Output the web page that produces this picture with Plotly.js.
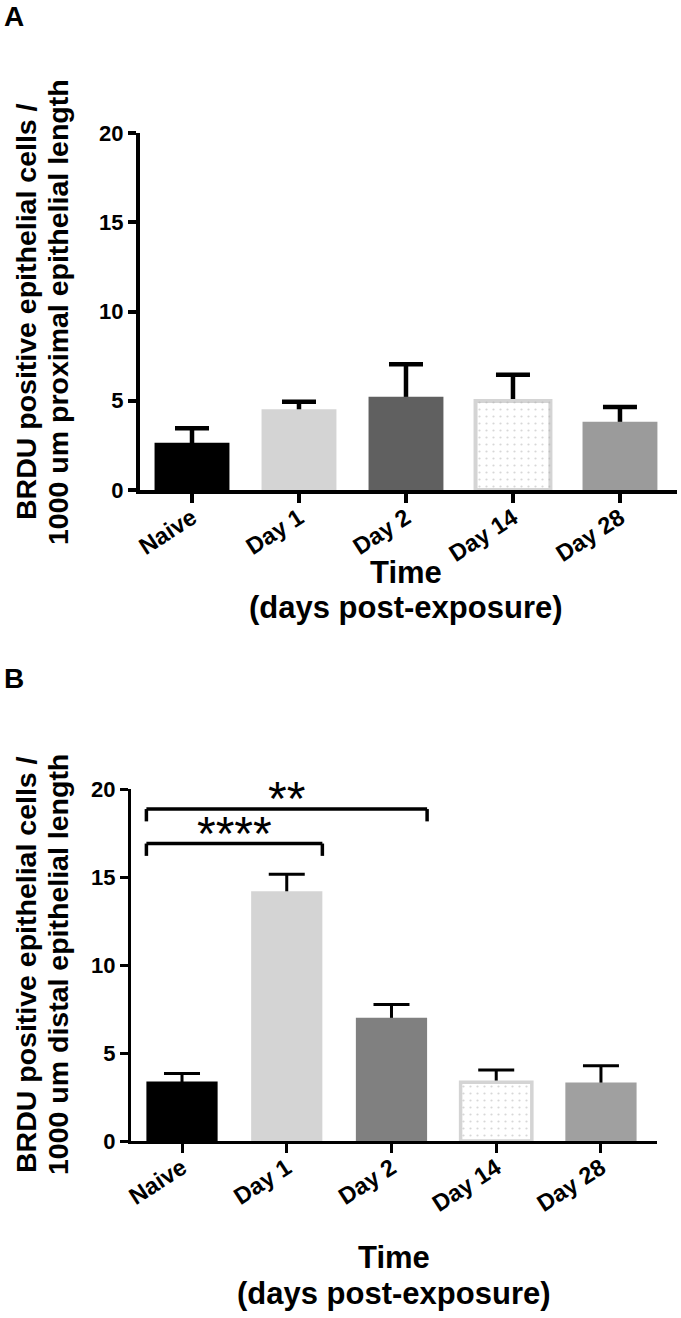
<!DOCTYPE html>
<html>
<head>
<meta charset="utf-8">
<script src="https://cdn.plot.ly/plotly-3.0.1.min.js"></script>
<style>html,body{margin:0;padding:0;background:#fff;}#chart{width:681px;height:1318px;}</style>
</head>
<body>
<div id="chart"></div>
<script>
// ---- data ----
const categories = ['Naive', 'Day 1', 'Day 2', 'Day 14', 'Day 28'];
const proximalMean = [2.65, 4.52, 5.23, 4.99, 3.83];
const proximalSem  = [0.81, 0.42, 1.81, 1.47, 0.82];
const distalMean   = [3.38, 14.19, 7.00, 3.34, 3.33];
const distalSem    = [0.46, 0.96, 0.76, 0.69, 0.95];
const yTickVals = [0, 5, 10, 15, 20];
const yTickText = ['0', '5', '10', '15', '20'];
const proximalColors = ['#000000', '#d4d4d4', '#606060', '#ffffff', '#9b9b9b'];
const distalColors   = ['#000000', '#d4d4d4', '#808080', '#ffffff', '#a0a0a0'];
const patternShapes  = ['', '', '', '.', ''];
const sigPairs  = [[0, 1], [0, 2]];
const sigLabels = ['****', '**'];
const sigLevels = [16.9, 18.86];
const sigDrop   = 0.7;
const panelLabels = ['A', 'B'];
const yTitleA = ['BRDU positive epithelial cells /', '1000 um proximal epithelial length'];
const yTitleB = ['BRDU positive epithelial cells /', '1000 um distal epithelial length'];
const xTitleLines = ['Time', '(days post-exposure)'];

// ---- helpers ----
const W = 681, H = 1318;
const px = x => x / W;
const py = y => 1 - y / H;
const FONT = 'Liberation Sans, Arial, Helvetica, sans-serif';

function barTraces(means, sems, colors, xa, ya, width, lw, errW, errT) {
  const borderW = colors.map(c => c === '#ffffff' ? lw : 0);
  const base = {
    type: 'bar', x: categories, y: means, width: width,
    xaxis: xa, yaxis: ya, hoverinfo: 'skip', showlegend: false
  };
  const errTrace = Object.assign({}, base, {
    marker: {color: 'rgba(0,0,0,0)'},
    error_y: {type: 'data', array: sems, visible: true, color: '#000', thickness: errT, width: errW}
  });
  const solidTrace = Object.assign({}, base, {
    marker: {color: colors, line: {color: '#d4d4d4', width: borderW}}
  });
  const patternTrace = Object.assign({}, base, {
    marker: {
      color: 'rgba(0,0,0,0)',
      line: {width: 0},
      pattern: {shape: patternShapes, fgcolor: '#b0b0b0', bgcolor: 'rgba(0,0,0,0)',
                fillmode: 'overlay', size: 7, solidity: 0.08}
    }
  });
  return [errTrace, solidTrace, patternTrace];
}

const widthA = 0.70, widthB = 0.68;
const data = [].concat(
  barTraces(proximalMean, proximalSem, proximalColors, 'x', 'y', widthA, 4, 17, 4.5),
  barTraces(distalMean, distalSem, distalColors, 'x2', 'y2', widthB, 3.5, 18, 3)
);

const tickFont = {family: FONT, size: 22, color: '#000', weight: 700};
const xTickFont = {family: FONT, size: 23.5, color: '#000', weight: 700};
function xAxis(domain, range, anchor, lw) {
  return {
    domain: domain, range: range, anchor: anchor, type: 'category',
    showline: true, linecolor: '#000', linewidth: lw,
    ticks: 'outside', ticklen: 9, tickwidth: lw, tickcolor: '#000',
    tickangle: -33, ticklabelstandoff: -8, tickfont: xTickFont,
    showgrid: false, zeroline: false, fixedrange: true
  };
}
function yAxis(domain, anchor, lw) {
  return {
    domain: domain, range: [0, 20], anchor: anchor,
    tickvals: yTickVals, ticktext: yTickText,
    showline: true, linecolor: '#000', linewidth: lw,
    ticks: 'outside', ticklen: 8, tickwidth: lw, tickcolor: '#000',
    tickfont: tickFont, showgrid: false, zeroline: false, fixedrange: true
  };
}

const shapes = [];
const annotations = [];
sigPairs.forEach((p, i) => {
  const x0 = p[0] - widthB / 2, x1 = p[1] + widthB / 2, yl = sigLevels[i];
  const common = {type: 'line', xref: 'x2', yref: 'y2', line: {color: '#000', width: 3.5}};
  shapes.push(Object.assign({x0: x0, x1: x1, y0: yl, y1: yl}, common));
  shapes.push(Object.assign({x0: x0, x1: x0, y0: yl, y1: yl - sigDrop}, common));
  shapes.push(Object.assign({x0: x1, x1: x1, y0: yl, y1: yl - sigDrop}, common));
  annotations.push({
    xref: 'x2', yref: 'y2', x: (x0 + x1) / 2, y: yl, text: sigLabels[i],
    showarrow: false, xanchor: 'center', yanchor: 'bottom', yshift: -18,
    font: {family: FONT, size: 48, color: '#000'}
  });
});

// panel letters
annotations.push({xref: 'paper', yref: 'paper', x: px(3), y: py(0), text: panelLabels[0], showarrow: false,
  xanchor: 'left', yanchor: 'top', borderpad: 0, font: {family: FONT, size: 28, color: '#000', weight: 700}});
annotations.push({xref: 'paper', yref: 'paper', x: px(3), y: py(662), text: panelLabels[1], showarrow: false,
  xanchor: 'left', yanchor: 'top', borderpad: 0, font: {family: FONT, size: 28, color: '#000', weight: 700}});

// y titles
function yTitle(lines, cy) {
  const xs = [26, 58];
  lines.forEach((t, i) => annotations.push({
    xref: 'paper', yref: 'paper', x: px(xs[i]), y: py(cy), text: t, textangle: -90, showarrow: false,
    xanchor: 'center', yanchor: 'middle', font: {family: FONT, size: 28.5, color: '#000', weight: 700}
  }));
}
yTitle(yTitleA, 312);
yTitle(yTitleB, 965);

// x titles
function xTitle(cx, ys) {
  xTitleLines.forEach((t, i) => annotations.push({
    xref: 'paper', yref: 'paper', x: px(cx), y: py(ys[i]), text: t, showarrow: false,
    xanchor: 'center', yanchor: 'middle', font: {family: FONT, size: 31, color: '#000', weight: 700}
  }));
}
xTitle(406, [572, 608]);
xTitle(394, [1257, 1293]);

const layout = {
  width: W, height: H, autosize: false,
  margin: {l: 0, r: 0, t: 0, b: 0, pad: 0},
  paper_bgcolor: '#fff', plot_bgcolor: 'rgba(0,0,0,0)',
  barmode: 'overlay', showlegend: false,
  xaxis: xAxis([px(140), px(677)], [-0.486, 4.533], 'y', 4),
  yaxis: yAxis([py(490), py(133)], 'x', 4),
  xaxis2: xAxis([px(131), px(657)], [-0.487, 4.535], 'y2', 3),
  yaxis2: yAxis([py(1141), py(789)], 'x2', 3),
  shapes: shapes, annotations: annotations
};

Plotly.newPlot('chart', data, layout, {displayModeBar: false, staticPlot: true});
</script>
</body>
</html>
